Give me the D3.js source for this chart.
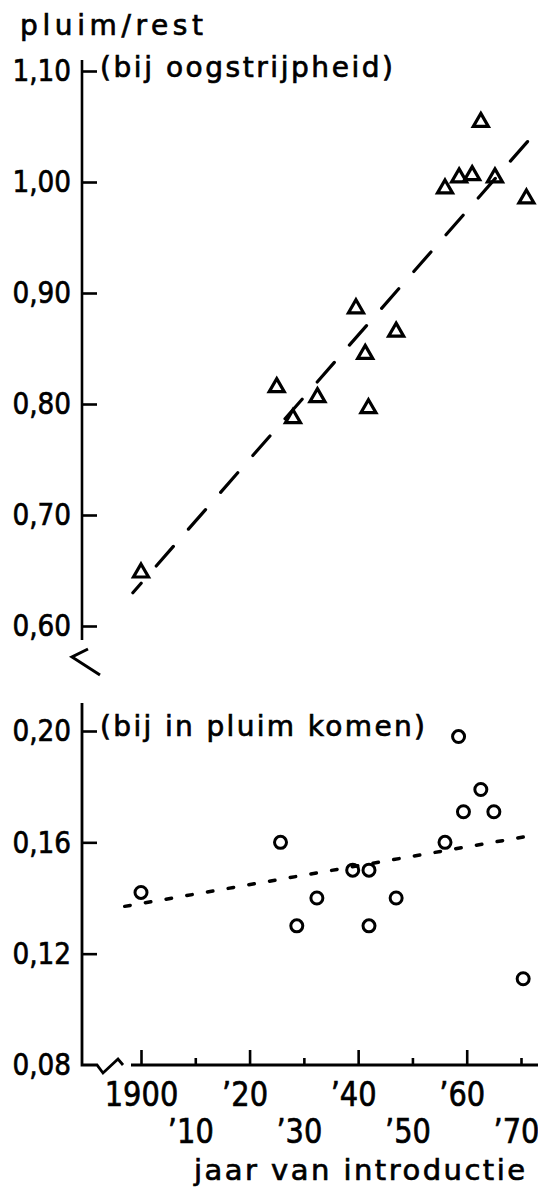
<!DOCTYPE html>
<html>
<head>
<meta charset="utf-8">
<script src="https://cdn.jsdelivr.net/npm/d3@7"></script>
<style>
  html, body { margin: 0; padding: 0; background: #fff; }
  svg { display: block; }
  text { font-family: "DejaVu Sans", "Noto Sans", sans-serif; fill: #000; stroke: #000; stroke-width: 0.7px; }
</style>
</head>
<body>
<svg id="chart" width="538" height="1192"></svg>
<script>
// Panicle / rest-of-plant ratio of oat varieties against year of introduction.
// Upper panel: at harvest ripeness (triangles); lower panel: at heading (circles).
const harvestYears = [1900, 1925, 1928, 1932.5, 1939.6, 1941.3, 1941.9, 1947, 1956, 1958.6, 1961, 1962.6, 1965.2, 1971];
const harvestRatio = [0.650, 0.817, 0.789, 0.808, 0.888, 0.847, 0.798, 0.867, 0.996, 1.006, 1.008, 1.056, 1.006, 0.987];

const headingYears = [1900, 1925.7, 1928.7, 1932.4, 1939, 1942, 1942, 1947, 1956, 1958.5, 1959.4, 1962.6, 1965, 1970.4];
const headingRatio = [0.142, 0.160, 0.130, 0.140, 0.150, 0.150, 0.130, 0.140, 0.160, 0.198, 0.171, 0.179, 0.171, 0.111];

// fitted trend lines (end points)
const harvestTrendYears = [1898.5, 1972.2];
const harvestTrendRatio = [0.630, 1.042];
const headingTrendYears = [1897, 1971.6];
const headingTrendRatio = [0.137, 0.1623];

const upperTicks = [0.60, 0.70, 0.80, 0.90, 1.00, 1.10];
const lowerTicks = [0.08, 0.12, 0.16, 0.20];
const decadeTicks = [1900, 1910, 1920, 1930, 1940, 1950, 1960, 1970];
const decadeLabels = ["1900", "’10", "’20", "’30", "’40", "’50", "’60", "’70"];

const titleText = "pluim/rest";
const upperNote = "(bij oogstrijpheid)";
const lowerNote = "(bij in pluim komen)";
const xTitle = "jaar van introductie";

// ---- layout ----
const W = 538, H = 1192;
const axisX = 82;
const squeeze = 0.85;   // narrow technical lettering for numerals
const ink = "#000";

const x = d3.scaleLinear().domain([1900, 1970]).range([141, 521]);
const yUp = d3.scaleLinear().domain([0.60, 1.10]).range([626, 71]);
const yLo = d3.scaleLinear().domain([0.08, 0.20]).range([1065, 731]);

const svg = d3.select("#chart");
svg.append("rect").attr("width", W).attr("height", H).attr("fill", "#fff");

const fmt = d3.formatLocale({ decimal: ",", thousands: ".", grouping: [3], currency: ["", ""] }).format(".2f");

function styleAxis(g) {
  g.attr("font-family", null).attr("font-size", null);
  g.select(".domain").remove();
  g.selectAll(".tick line").attr("stroke", ink).attr("stroke-width", 2.6);
}

function yNumbers(g) {
  g.selectAll(".tick text")
    .attr("x", -11 / squeeze)
    .attr("transform", `scale(${squeeze},1)`)
    .style("font-size", "31px");
}

// ---- upper y axis ----
svg.append("g")
  .attr("transform", `translate(${axisX},0)`)
  .call(d3.axisLeft(yUp).tickValues(upperTicks).tickFormat(fmt).tickSize(-15).tickPadding(11))
  .call(styleAxis)
  .call(yNumbers);

svg.append("line")
  .attr("x1", axisX).attr("x2", axisX)
  .attr("y1", yUp(1.10) - 11).attr("y2", yUp(0.60) + 14)
  .attr("stroke", ink).attr("stroke-width", 2.6);

// axis break mark
const brk = d3.path();
brk.moveTo(axisX + 6, yUp(0.60) + 23);
brk.lineTo(axisX - 10, yUp(0.60) + 31);
brk.lineTo(axisX + 18, yUp(0.60) + 49);
svg.append("path").attr("d", brk.toString())
  .attr("fill", "none").attr("stroke", ink).attr("stroke-width", 3)
  .attr("stroke-linejoin", "miter");

// ---- lower y axis ----
svg.append("g")
  .attr("transform", `translate(${axisX},0)`)
  .call(d3.axisLeft(yLo).tickValues(lowerTicks).tickFormat(fmt).tickSize(-15).tickPadding(11))
  .call(styleAxis)
  .call(yNumbers)
  .call(g => g.selectAll(".tick").filter(d => d === 0.08).select("line").remove());

const cornerY = yLo(0.08);
const frame = d3.path();
frame.moveTo(axisX, yLo(0.20) - 28);
frame.lineTo(axisX, cornerY);
frame.lineTo(axisX + 15, cornerY);
frame.lineTo(axisX + 21, cornerY + 8);
frame.lineTo(axisX + 36, cornerY - 6);
frame.lineTo(axisX + 41, cornerY);
svg.append("path").attr("d", frame.toString())
  .attr("fill", "none").attr("stroke", ink).attr("stroke-width", 2.8)
  .attr("stroke-linejoin", "miter");

// ---- x axis ----
svg.append("line")
  .attr("x1", x(1900) - 10).attr("x2", W)
  .attr("y1", cornerY).attr("y2", cornerY)
  .attr("stroke", ink).attr("stroke-width", 2.8);

const gx = svg.append("g")
  .attr("transform", `translate(0,${cornerY})`)
  .call(d3.axisBottom(x).tickValues(decadeTicks)
        .tickFormat(d => decadeLabels[decadeTicks.indexOf(d)]).tickSize(-15))
  .call(styleAxis);

gx.selectAll(".tick line").attr("y2", (d, i) => (i % 2 ? -7 : -15));
gx.selectAll(".tick text")
  .attr("dy", null)
  .attr("y", (d, i) => (i % 2 ? 78 : 41))
  .attr("x", (d, i) => (i === 0 ? 0 : -5 / squeeze))
  .attr("transform", `scale(${squeeze},1)`)
  .style("font-size", "34px");

// ---- trend lines ----
const trendUp = harvestTrendYears.map((yr, i) => ({ year: yr, value: harvestTrendRatio[i] }));
const trendLo = headingTrendYears.map((yr, i) => ({ year: yr, value: headingTrendRatio[i] }));

svg.append("path")
  .datum(trendUp)
  .attr("d", d3.line().x(d => x(d.year)).y(d => yUp(d.value)))
  .attr("fill", "none").attr("stroke", ink).attr("stroke-width", 3.2)
  .attr("stroke-linecap", "round")
  .attr("stroke-dasharray", "26 22.9").attr("stroke-dashoffset", 13.4);

svg.append("path")
  .datum(trendLo)
  .attr("d", d3.line().x(d => x(d.year)).y(d => yLo(d.value)))
  .attr("fill", "none").attr("stroke", ink).attr("stroke-width", 3.5)
  .attr("stroke-linecap", "round")
  .attr("stroke-dasharray", "5.5 15.5");

// ---- markers ----
const openTriangle = {
  draw(ctx) {
    ctx.moveTo(0, -6.5);
    ctx.lineTo(7.5, 6.5);
    ctx.lineTo(-7.5, 6.5);
    ctx.closePath();
  }
};
const harvest = harvestYears.map((yr, i) => ({ year: yr, value: harvestRatio[i] }));
svg.append("g").selectAll("path")
  .data(harvest).join("path")
  .attr("transform", d => `translate(${x(d.year)},${yUp(d.value)})`)
  .attr("d", d3.symbol(openTriangle)())
  .attr("fill", "none").attr("stroke", ink).attr("stroke-width", 3.2)
  .attr("stroke-linejoin", "miter");

const heading = headingYears.map((yr, i) => ({ year: yr, value: headingRatio[i] }));
svg.append("g").selectAll("circle")
  .data(heading).join("circle")
  .attr("cx", d => x(d.year)).attr("cy", d => yLo(d.value)).attr("r", 6)
  .attr("fill", "none").attr("stroke", ink).attr("stroke-width", 3);

// ---- texts ----
svg.append("text").attr("x", 20).attr("y", 35)
  .style("font-size", "28px")
  .attr("textLength", 183).attr("lengthAdjust", "spacing")
  .text(titleText);

svg.append("text").attr("x", 100).attr("y", 77)
  .style("font-size", "28px")
  .attr("textLength", 293).attr("lengthAdjust", "spacing")
  .text(upperNote);

svg.append("text").attr("x", 100).attr("y", 736)
  .style("font-size", "28px")
  .attr("textLength", 325).attr("lengthAdjust", "spacing")
  .text(lowerNote);

svg.append("text").attr("x", 194).attr("y", 1180)
  .style("font-size", "29px")
  .attr("textLength", 331).attr("lengthAdjust", "spacing")
  .text(xTitle);
</script>
</body>
</html>
